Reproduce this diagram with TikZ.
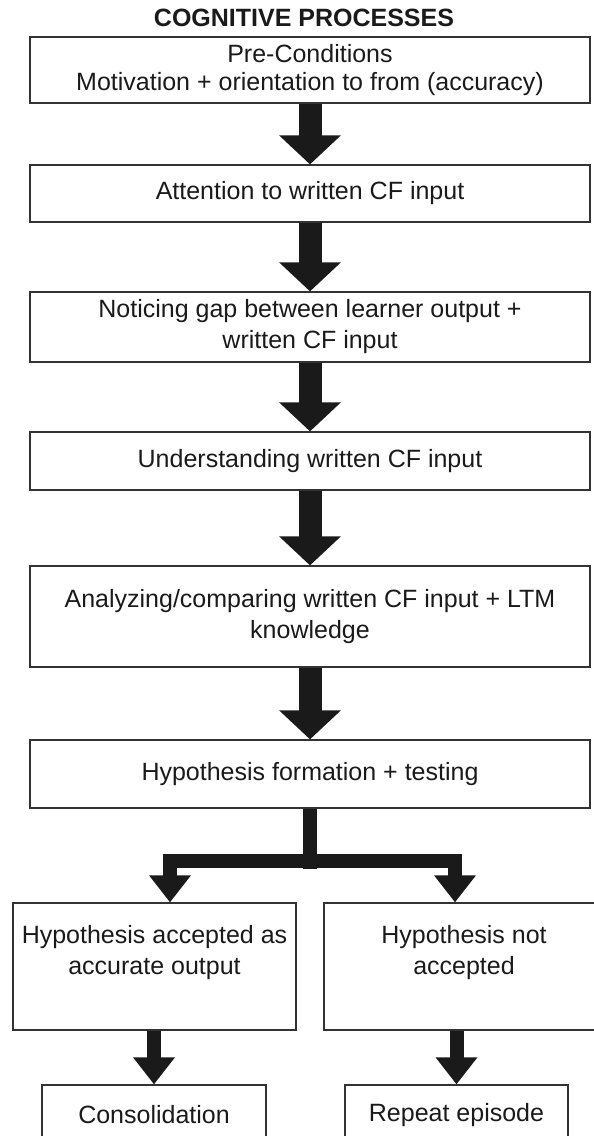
\documentclass[tikz,border=0pt]{standalone}
\usepackage{fontspec}
\setmainfont{Liberation Sans}
\usetikzlibrary{arrows.meta,calc}
\definecolor{ink}{HTML}{1A1A1A}
\definecolor{frame}{HTML}{333333}
\tikzset{
  box/.style={draw=frame, line width=1.2pt, rectangle, align=center, text=ink,
    inner sep=2pt, font=\fontsize{25}{31}\selectfont},
  label/.style={text=ink, align=center, inner sep=0pt, font=\fontsize{25}{31}\selectfont},
  bigarrow/.style={draw=ink, line width=23pt,
    -{Triangle[width=60pt,length=29pt]}},
  forkline/.style={draw=ink, line width=14pt},
  smallarrow/.style={draw=ink, line width=14pt,
    -{Triangle[width=40pt,length=27pt]}},
}
\begin{document}
\begin{tikzpicture}[x=1pt,y=-1pt]
  \useasboundingbox (0,0) rectangle (594,1136);
  \clip (0,0) rectangle (594,1136);

  \node[text=ink, font=\bfseries\fontsize{25}{29}\selectfont] (title) at (304,18) {COGNITIVE PROCESSES};

  % main chain
  \node[box, minimum width=560pt, minimum height=66pt, font=\fontsize{25}{28}\selectfont] (pre) at (310,70)
    {Pre-Conditions\\Motivation + orientation to from (accuracy)};
  \node[box, minimum width=560pt, minimum height=57pt] (att) at (310,193.5)
    {Attention to written CF input};
  \node[box, minimum width=560pt, minimum height=70pt] (gap) at (310,327)
    {Noticing gap between learner output +\\written CF input};
  \node[box, minimum width=560pt, minimum height=58pt] (und) at (310,461)
    {Understanding written CF input};
  \node[box, minimum width=560pt, minimum height=101pt] (ana) at (310,616.5)
    {Analyzing/comparing written CF input + LTM\\knowledge};
  \node[box, minimum width=560pt, minimum height=68pt] (hyp) at (310,774)
    {Hypothesis formation + testing};

  % outcomes
  \node[box, minimum width=283pt, minimum height=127pt] (acc) at (154.5,966.5) {};
  \node[box, minimum width=280pt, minimum height=127pt] (rej) at (464,966.5) {};
  \node[label] (acctext) at (154.5,953) {Hypothesis accepted as\\accurate output};
  \node[label] (rejtext) at (464,953) {Hypothesis not\\accepted};

  % final boxes, running past the lower edge
  \node[box, minimum width=224pt, minimum height=130pt] (con) at (154,1150) {};
  \node[box, minimum width=223pt, minimum height=130pt] (rep) at (456.5,1150) {};
  \node[label] (context) at (154,1115) {Consolidation};
  \node[label] (reptext) at (456.5,1115) {Repeat episode};

  % arrows between the steps
  \draw[bigarrow] (pre.south) -- (att.north);
  \draw[bigarrow] (att.south) -- (gap.north);
  \draw[bigarrow] (gap.south) -- (und.north);
  \draw[bigarrow] (und.south) -- (ana.north);
  \draw[bigarrow] (ana.south) -- (hyp.north);

  % fork into the two outcomes
  \coordinate (fork) at ($(hyp.south)+(0,53)$);
  \coordinate (forkL) at (170,861);
  \coordinate (forkR) at (455,861);
  \draw[forkline] (hyp.south) -- ($(fork)+(0,7)$);
  \draw[forkline, line cap=rect] (forkL) -- (forkR);
  \draw[smallarrow] (forkL) -- (acc.north -| forkL);
  \draw[smallarrow] (forkR) -- (rej.north -| forkR);

  % final arrows
  \draw[smallarrow] (acc.south -| con.north) -- (con.north);
  \draw[smallarrow] (rej.south -| rep.north) -- (rep.north);
\end{tikzpicture}
\end{document}
